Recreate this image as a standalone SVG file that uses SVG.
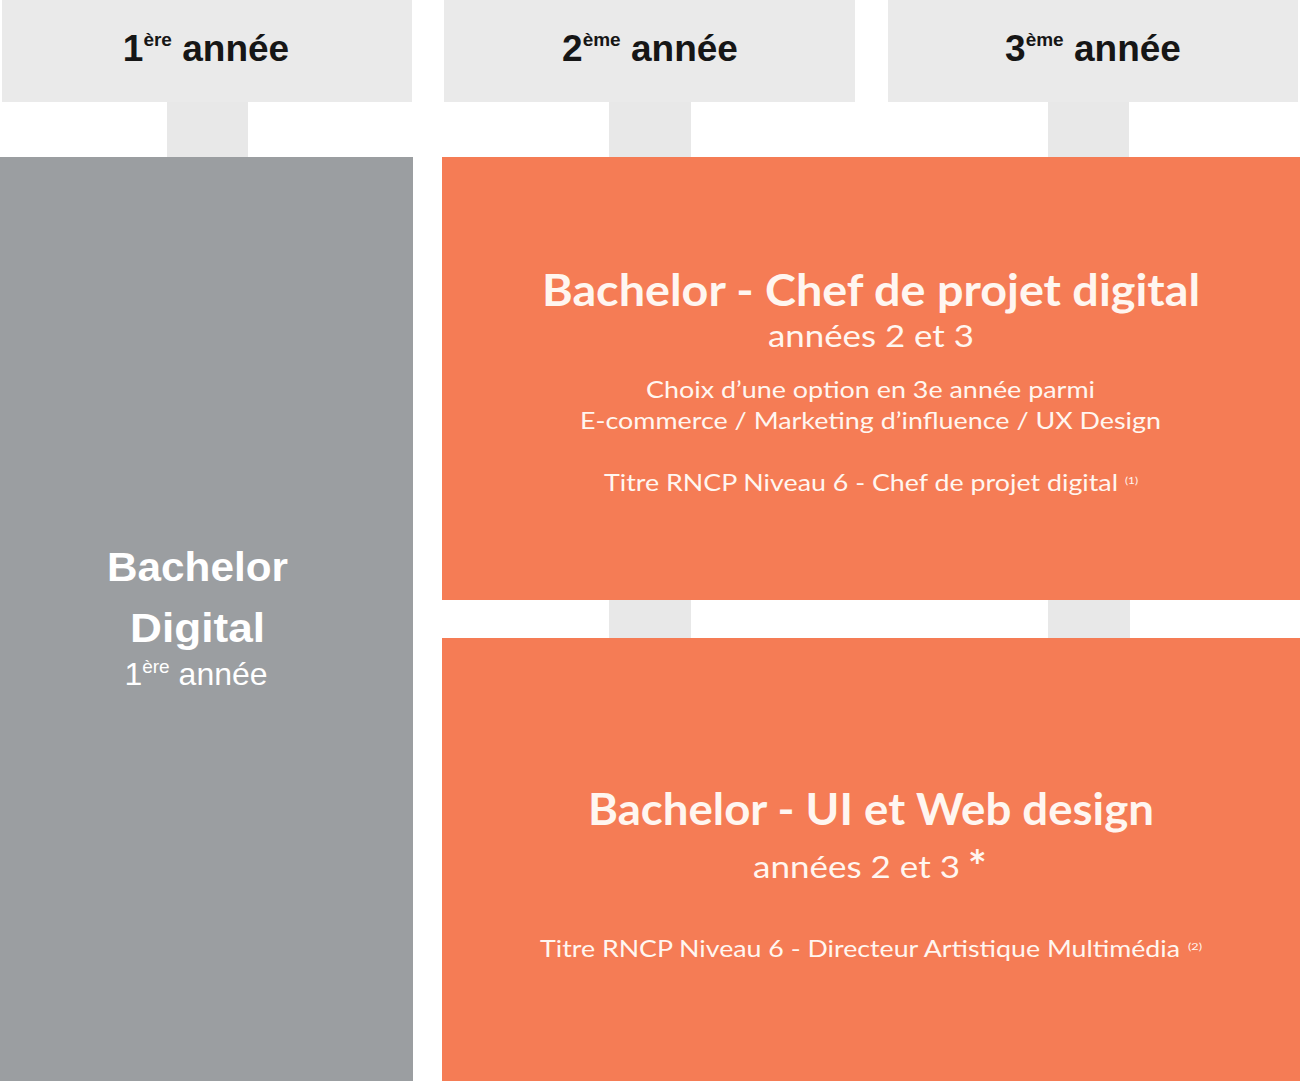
<svg xmlns="http://www.w3.org/2000/svg" width="1300" height="1081" viewBox="0 0 1300 1081">
<style>
.hdr{fill:#eaeaea}
.conn{fill:#e8e8e8}
.grey{fill:#9b9ea1}
.orange{fill:#f57c55}
.ht{font-family:"Liberation Sans",Arial,sans-serif;font-weight:bold;font-size:37px;fill:#161616;text-anchor:middle}
.gb{font-family:"Liberation Sans",Arial,sans-serif;font-weight:bold;font-size:41px;fill:#ffffff}
.gr{font-family:"Liberation Sans",Arial,sans-serif;font-size:32px;fill:#ffffff;text-anchor:middle}
.ob{font-family:Lato,"Open Sans",sans-serif;font-weight:bold;font-size:44px;fill:#fff6f0}
.om{font-family:Lato,"Open Sans",sans-serif;font-size:30px;fill:#fff6f0}
.os{font-family:Lato,"Open Sans",sans-serif;font-size:24px;fill:#fff6f0}
.on{font-family:Lato,"Open Sans",sans-serif;font-size:10px;fill:#fff6f0}
</style>
<rect width="1300" height="1081" fill="#ffffff"/>
<g id="connectors">
<rect class="conn" x="167" y="100" width="81" height="58"/>
<rect class="conn" x="609" y="100" width="82" height="58"/>
<rect class="conn" x="1048" y="100" width="81" height="58"/>
<rect class="conn" x="609" y="600" width="82" height="39"/>
<rect class="conn" x="1048" y="600" width="82" height="39"/>
</g>
<g id="header1">
<rect class="hdr" x="2" y="0" width="410" height="102"/>
<text class="ht" x="206" y="61">1<tspan font-size="19" dy="-15">ère</tspan><tspan dy="15"> année</tspan></text>
</g>
<g id="header2">
<rect class="hdr" x="444" y="0" width="411" height="102"/>
<text class="ht" x="650" y="61">2<tspan font-size="19" dy="-15">ème</tspan><tspan dy="15"> année</tspan></text>
</g>
<g id="header3">
<rect class="hdr" x="888" y="0" width="410" height="102"/>
<text class="ht" x="1093" y="61">3<tspan font-size="19" dy="-15">ème</tspan><tspan dy="15"> année</tspan></text>
</g>
<g id="bachelor-digital">
<rect class="grey" x="0" y="157" width="413" height="924"/>
<text class="gb" x="107" y="581" textLength="181" lengthAdjust="spacingAndGlyphs">Bachelor</text>
<text class="gb" x="130" y="642" textLength="135" lengthAdjust="spacingAndGlyphs">Digital</text>
<text class="gr" x="196" y="685">1<tspan font-size="19" dy="-12">ère</tspan><tspan dy="12"> année</tspan></text>
</g>
<g id="chef-projet">
<rect class="orange" x="442" y="157" width="858" height="443"/>
<text class="ob" x="542" y="306" textLength="658" lengthAdjust="spacingAndGlyphs">Bachelor - Chef de projet digital</text>
<text class="om" x="768" y="347" textLength="206" lengthAdjust="spacingAndGlyphs">années 2 et 3</text>
<text class="os" x="646" y="398" textLength="449" lengthAdjust="spacingAndGlyphs">Choix d’une option en 3e année parmi</text>
<text class="os" x="580" y="429" textLength="581" lengthAdjust="spacingAndGlyphs">E-commerce / Marketing d’influence / UX Design</text>
<text class="os" x="604" y="491" textLength="514" lengthAdjust="spacingAndGlyphs">Titre RNCP Niveau 6 - Chef de projet digital</text>
<text class="on" x="1125" y="484" textLength="13" lengthAdjust="spacingAndGlyphs">(1)</text>
</g>
<g id="ui-web">
<rect class="orange" x="442" y="638" width="858" height="443"/>
<text class="ob" x="588" y="825" textLength="566" lengthAdjust="spacingAndGlyphs">Bachelor - UI et Web design</text>
<text class="om" x="753" y="878" textLength="207" lengthAdjust="spacingAndGlyphs">années 2 et 3</text>
<text class="ob" x="968" y="882" font-size="34">*</text>
<text class="os" x="540" y="957" textLength="640" lengthAdjust="spacingAndGlyphs">Titre RNCP Niveau 6 - Directeur Artistique Multimédia</text>
<text class="on" x="1188" y="950" textLength="14" lengthAdjust="spacingAndGlyphs">(2)</text>
</g>
</svg>
